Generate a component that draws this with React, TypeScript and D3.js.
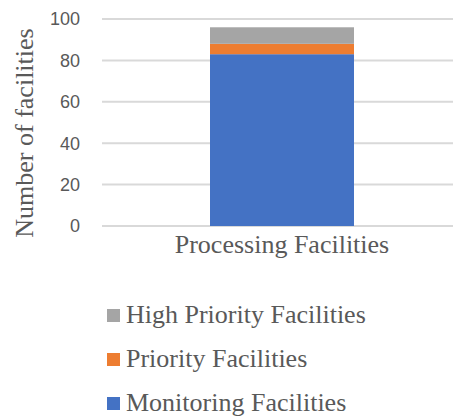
import * as d3 from 'd3';
import React from "react";

const categories = ["Processing Facilities"];
const seriesNames = ["Monitoring Facilities", "Priority Facilities", "High Priority Facilities"];
const monitoring = [83];
const priority = [5];
const highPriority = [8];
const yTicks = [0, 20, 40, 60, 80, 100];
const colors = ["#4472C4", "#ED7D31", "#A5A5A5"];

const W = 453;
const H = 418;
const serif = { fontFamily: "Liberation Serif" };
const sans = { fontFamily: "Liberation Sans" };

export default function App() {
  const x = d3.scaleBand().domain(categories).range([102, 462]).padding(0.4286);
  const y = d3.scaleLinear().domain([0, 100]).range([226, 19]);

  const rows = categories.map((c, i) => ({
    category: c,
    monitoring: monitoring[i],
    priority: priority[i],
    high: highPriority[i],
  }));
  const stack = d3.stack<any>().keys(["monitoring", "priority", "high"]);
  const layers = stack(rows);

  // legend listed top to bottom in reverse stack order
  const legendRows = seriesNames.map((n, i) => ({ name: n, color: colors[i] })).reverse();
  const legendBase = [323, 367, 411];

  return (
    <svg width={W} height={H} style={{ position: "absolute", left: 0, top: 0, background: "#fff" }}>
      {yTicks.map(t => (
        <g key={t}>
          <line x1={102} x2={W} y1={y(t)} y2={y(t)} stroke="#d9d9d9" strokeWidth={2} />
          <text x={80} y={y(t)} dy="0.36em" textAnchor="end" style={sans} fontSize={18} fill="#595959">{t}</text>
        </g>
      ))}
      {layers.map((layer, li) => (
        <g key={li} fill={colors[li]}>
          {layer.map((d, j) => (
            <rect key={j}
              x={x(categories[j])}
              width={x.bandwidth()}
              y={y(d[1])}
              height={y(d[0]) - y(d[1])} />
          ))}
        </g>
      ))}
      {categories.map(c => (
        <text key={c} x={(x(c) as number) + x.bandwidth() / 2} y={253} textAnchor="middle"
          style={serif} fontSize={26} fill="#595959">{c}</text>
      ))}
      <text transform="translate(33,133) rotate(-90)" textAnchor="middle" style={serif} fontSize={26} fill="#595959">
        Number of facilities
      </text>
      {legendRows.map((r, i) => (
        <g key={r.name}>
          <rect x={107} y={legendBase[i] - 14} width={13} height={13} fill={r.color} />
          <text x={126} y={legendBase[i]} style={serif} fontSize={26} fill="#595959">{r.name}</text>
        </g>
      ))}
    </svg>
  );
}
